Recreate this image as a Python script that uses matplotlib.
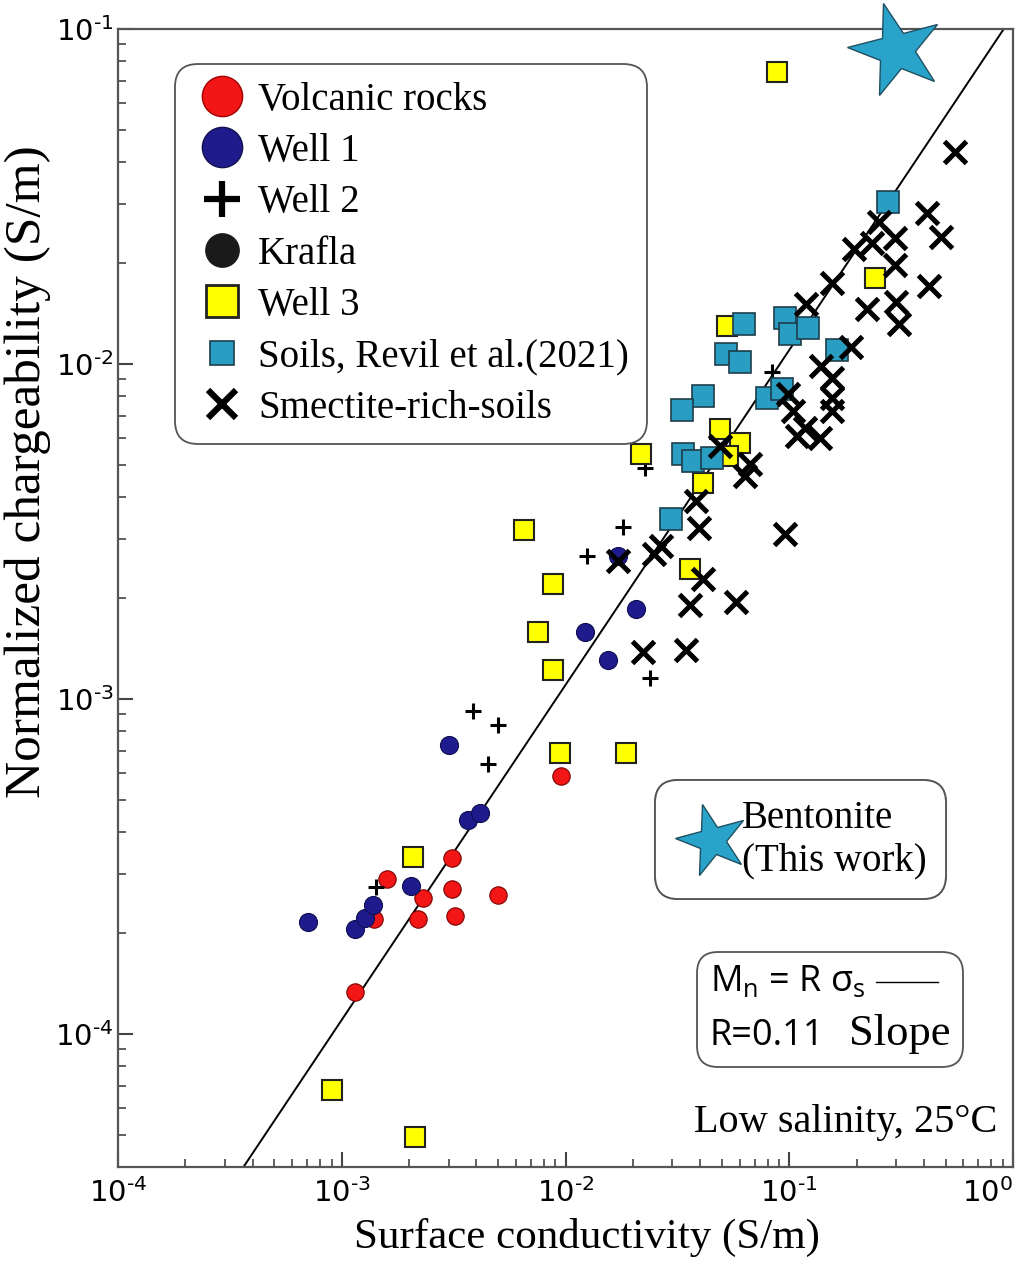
import matplotlib
matplotlib.use('Agg')
import matplotlib.pyplot as plt
import numpy as np
from matplotlib.lines import Line2D
from matplotlib.markers import MarkerStyle
from matplotlib.transforms import Affine2D
from matplotlib.ticker import LogLocator, FuncFormatter, NullFormatter
from matplotlib.offsetbox import TextArea, HPacker, VPacker, DrawingArea, AnchoredOffsetbox

plt.rcParams['mathtext.fontset'] = 'custom'
plt.rcParams['mathtext.rm'] = 'Open Sans'
plt.rcParams['mathtext.it'] = 'Open Sans:italic'
plt.rcParams['mathtext.bf'] = 'Open Sans:bold'

SERIF = 'Liberation Serif'
SANS = 'Open Sans'

# ---------------- data ----------------
volc_x = [3.1e-3, 1.6e-3, 2.3e-3, 3.1e-3, 5.0e-3, 2.2e-3, 3.2e-3, 1.4e-3, 1.15e-3, 9.5e-3]
volc_y = [3.35e-4, 2.9e-4, 2.55e-4, 2.7e-4, 2.6e-4, 2.2e-4, 2.25e-4, 2.2e-4, 1.33e-4, 5.9e-4]

well1_x = [7.1e-4, 1.15e-3, 1.27e-3, 1.38e-3, 2.04e-3, 3.66e-3, 4.15e-3, 3.0e-3,
           2.07e-2, 1.22e-2, 1.55e-2, 1.72e-2]
well1_y = [2.15e-4, 2.06e-4, 2.21e-4, 2.43e-4, 2.77e-4, 4.36e-4, 4.55e-4, 7.3e-4,
           1.85e-3, 1.58e-3, 1.31e-3, 2.67e-3]

well2_x = [3.87e-3, 4.99e-3, 4.51e-3, 1.42e-3, 1.81e-2, 1.25e-2, 2.39e-2, 2.26e-2, 8.38e-2]
well2_y = [9.18e-4, 8.34e-4, 6.37e-4, 2.75e-4, 3.26e-3, 2.67e-3, 1.15e-3, 4.9e-3, 9.48e-3]

well3_x = [8.8e-2, 0.241, 5.27e-2, 2.17e-2, 4.12e-2, 3.6e-2, 6.53e-3, 8.79e-3, 7.53e-3,
           8.79e-3, 9.44e-3, 1.86e-2, 2.08e-3, 9.0e-4, 2.12e-3, 4.9e-2, 6.03e-2, 5.32e-2]
well3_y = [7.43e-2, 1.81e-2, 1.30e-2, 5.39e-3, 4.41e-3, 2.44e-3, 3.19e-3, 2.20e-3, 1.58e-3,
           1.22e-3, 6.88e-4, 6.88e-4, 3.36e-4, 6.8e-5, 4.92e-5, 6.40e-3, 5.82e-3, 5.32e-3]

soils_x = [0.276, 6.28e-2, 5.21e-2, 6.03e-2, 9.57e-2, 0.101, 0.121, 4.12e-2,
           3.32e-2, 7.96e-2, 9.29e-2, 0.163, 3.35e-2, 3.72e-2, 4.52e-2, 2.97e-2]
soils_y = [3.04e-2, 1.32e-2, 1.07e-2, 1.01e-2, 1.37e-2, 1.23e-2, 1.28e-2, 8.04e-3,
           7.30e-3, 7.93e-3, 8.43e-3, 1.10e-2, 5.39e-3, 5.14e-3, 5.25e-3, 3.44e-3]

smec_x = [0.551, 0.413, 0.476, 0.252, 0.297, 0.195, 0.234, 0.297, 0.421, 0.155,
          0.119, 0.222, 0.300, 0.309, 0.189, 0.139, 0.155, 0.155, 0.155, 0.118,
          0.137, 9.86e-2, 0.104, 4.90e-2, 6.68e-2, 6.34e-2, 3.83e-2, 3.96e-2, 9.57e-2,
          2.67e-2, 2.49e-2, 1.72e-2, 4.12e-2, 3.60e-2, 5.78e-2, 2.22e-2, 3.46e-2, 0.108]
smec_y = [4.29e-2, 2.82e-2, 2.39e-2, 2.65e-2, 2.37e-2, 2.21e-2, 2.29e-2, 1.98e-2, 1.71e-2, 1.74e-2,
          1.51e-2, 1.46e-2, 1.53e-2, 1.32e-2, 1.12e-2, 9.89e-3, 9.10e-3, 7.93e-3, 7.25e-3, 6.45e-3,
          6.02e-3, 8.15e-3, 7.25e-3, 5.70e-3, 5.03e-3, 4.63e-3, 3.90e-3, 3.24e-3, 3.11e-3,
          2.86e-3, 2.71e-3, 2.58e-3, 2.28e-3, 1.91e-3, 1.95e-3, 1.38e-3, 1.40e-3, 6.10e-3]

bent_x = [0.30]
bent_y = [8.65e-2]

fit_R = 0.11
fit_x = np.logspace(-4, 0, 60)

x_ticks = [1e-4, 1e-3, 1e-2, 1e-1, 1e0]
y_ticks = [1e-4, 1e-3, 1e-2, 1e-1]

legend_labels = ["Volcanic rocks", "Well 1", "Well 2", "Krafla", "Well 3",
                 "Soils, Revil et al.(2021)", "Smectite-rich-soils"]

# ---------------- colours ----------------
RED = '#f21616'
NAVY = '#1f1b8c'
YELLOW = '#ffff00'
TEAL = '#2a9dc2'
STAR = '#2aa3cb'

fig = plt.figure(figsize=(10.26, 12.67), dpi=100)
ax = fig.add_axes([0.11501, 0.07893, 0.87232, 0.89818])
ax.set_xscale('log')
ax.set_yscale('log')
ax.set_xlim(1e-4, 1.0)
ax.set_ylim(4e-5, 0.1)

# fit line
ax.plot(fit_x, fit_R * fit_x, color='black', lw=1.4, zorder=2)

ax.plot(volc_x, volc_y, ls='none', marker='o', ms=12.5, mfc=RED, mec='#7a0000', mew=0.8, zorder=3)
ax.plot(well1_x, well1_y, ls='none', marker='o', ms=13, mfc=NAVY, mec='#101050', mew=0.8, zorder=3)
ax.plot(well2_x, well2_y, ls='none', marker='+', ms=12, mew=2.2, color='black', zorder=3)
ax.plot(well3_x, well3_y, ls='none', marker='s', ms=14.5, mfc=YELLOW, mec='#222222', mew=1.5, zorder=4)
ax.plot(soils_x, soils_y, ls='none', marker='s', ms=15.5, mfc=TEAL, mec='#1d3e4c', mew=1.2, zorder=4)
ax.plot(smec_x, smec_y, ls='none', marker='x', ms=16, mew=3.6, color='black', zorder=5)

star_marker = MarkerStyle('*', transform=Affine2D().rotate_deg(15))
ax.plot(bent_x, bent_y, ls='none', marker=star_marker, ms=70, mfc=STAR, mec='#1f4f60',
        mew=1.0, clip_on=False, zorder=6)

# ---------------- axes styling ----------------
for s in ax.spines.values():
    s.set_color('#555555')
    s.set_linewidth(1.6)


def exp_label(v):
    e = int(round(np.log10(v)))
    s = str(e).replace('-', '\u2010')
    return r'$\mathregular{10^{%s}}$' % s


ax.set_xticks(x_ticks, [exp_label(v) for v in x_ticks])
ax.set_yticks(y_ticks, [exp_label(v) for v in y_ticks])
ax.xaxis.set_minor_locator(LogLocator(base=10, subs=np.arange(2, 10), numticks=20))
ax.yaxis.set_minor_locator(LogLocator(base=10, subs=np.arange(2, 10), numticks=20))
ax.xaxis.set_minor_formatter(NullFormatter())
ax.yaxis.set_minor_formatter(NullFormatter())
ax.set_xlim(1e-4, 1.0)
ax.set_ylim(4e-5, 0.1)

ax.tick_params(which='both', direction='in', top=False, right=False, color='#444444')
ax.tick_params(which='major', length=11, width=1.5, labelsize=21)
ax.tick_params(axis='x', which='major', pad=8)
ax.tick_params(axis='y', which='major', pad=3)
ax.tick_params(which='minor', length=6, width=1.2)

# the last x label sits just left of its tick, as in the reference
ax.get_xticklabels()[-1].set_horizontalalignment('right')

ax.set_xlabel('Surface conductivity (S/m)', family=SERIF, size=31)
ax.set_ylabel('Normalized chargeability (S/m)', family=SERIF, size=37)
ax.xaxis.set_label_coords(0.524, -0.045)
ax.yaxis.set_label_coords(-0.075, 0.611)

# ---------------- legend 1 ----------------
handles = [
    Line2D([], [], ls='none', marker='o', ms=29, mfc=RED, mec='#a00000', mew=1),
    Line2D([], [], ls='none', marker='o', ms=29, mfc=NAVY, mec='#101050', mew=1),
    Line2D([], [], ls='none', marker='+', ms=26, mew=4.5, color='black'),
    Line2D([], [], ls='none', marker='o', ms=24, mfc='#1a1a1a', mec='#1a1a1a'),
    Line2D([], [], ls='none', marker='s', ms=23, mfc=YELLOW, mec='#222222', mew=2),
    Line2D([], [], ls='none', marker='s', ms=17, mfc=TEAL, mec='#1d3e4c', mew=1.2),
    Line2D([], [], ls='none', marker='x', ms=20, mew=4.5, color='black'),
]
leg1 = ax.legend(handles, legend_labels, loc='upper left', bbox_to_anchor=(0.0637, 0.9692),
                 borderaxespad=0, prop={'family': SERIF, 'size': 28}, handlelength=1.52,
                 handletextpad=0.17, borderpad=0.45, labelspacing=0.37, frameon=True,
                 fancybox=True, edgecolor='#555555', framealpha=1)
leg1.get_frame().set_linewidth(1.3)
leg1.get_frame().set_boxstyle('round,pad=0,rounding_size=0.6')
ax.add_artist(leg1)

# ---------------- legend 2 (bentonite) ----------------
star_h = Line2D([], [], ls='none', marker=star_marker, ms=54, mfc=STAR, mec='#1f4f60', mew=1)
leg2 = ax.legend([star_h], ['Bentonite\n(This work)'], loc='upper left',
                 bbox_to_anchor=(0.600, 0.340), borderaxespad=0,
                 prop={'family': SERIF, 'size': 28}, handlelength=1.93,
                 handletextpad=-0.19, borderpad=0.5, frameon=True, fancybox=True,
                 edgecolor='#555555', framealpha=1)
leg2.get_frame().set_linewidth(1.3)
leg2.get_frame().set_boxstyle('round,pad=0,rounding_size=0.6')
ax.add_artist(leg2)

# ---------------- box 3 (fit) ----------------
ta1 = TextArea(r'M$_\mathregular{n}$ = R σ$_\mathregular{s}$', textprops=dict(family=SANS, size=26))
da = DrawingArea(44, 20, 0, 0)
da.add_artist(Line2D([0, 44], [10, 10], color='black', lw=1.0))
row1 = HPacker(children=[ta1, da], align='center', pad=0, sep=8)
ta2 = TextArea('R=0.11', textprops=dict(family=SANS, size=26))
ta3 = TextArea('Slope', textprops=dict(family=SERIF, size=32))
row2 = HPacker(children=[ta2, ta3], align='baseline', pad=0, sep=18)
vp = VPacker(children=[row1, row2], align='left', pad=0, sep=10)
ab = AnchoredOffsetbox(loc='upper left', child=vp, pad=0.36, borderpad=0, frameon=True,
                       bbox_to_anchor=(0.647, 0.189), bbox_transform=ax.transAxes,
                       prop=dict(size=25))
ab.patch.set_boxstyle('round,pad=0,rounding_size=0.6')
ab.patch.set_edgecolor('#555555')
ab.patch.set_linewidth(1.3)
ax.add_artist(ab)

ax.text(0.982, 0.039, 'Low salinity, 25°C', transform=ax.transAxes, ha='right', va='center',
        family=SERIF, size=29)

fig.savefig('out.png', dpi=100)
